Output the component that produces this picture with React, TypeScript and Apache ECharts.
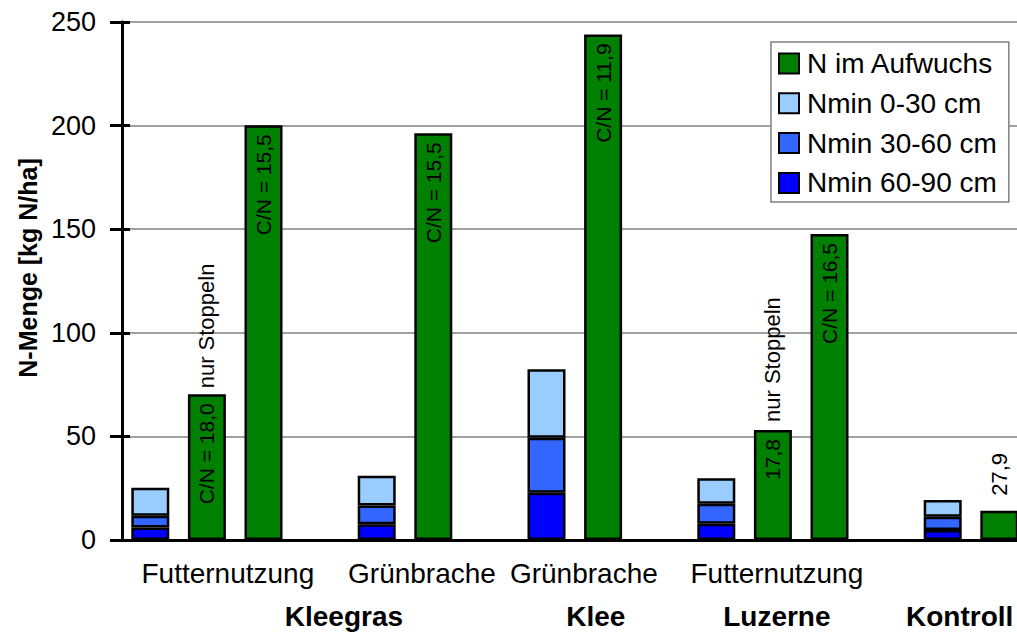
import React, { useEffect, useRef } from "react";
import * as echarts from "echarts";

const FONT = "'Liberation Sans', Arial, Helvetica, sans-serif";

// 16 category slots (bars), including empty gap slots
const categories = [
  "Kleegras Futternutzung Nmin",
  "Kleegras Futternutzung Stoppeln",
  "Kleegras Futternutzung Aufwuchs",
  "gap 1",
  "Kleegras Grünbrache Nmin",
  "Kleegras Grünbrache Aufwuchs",
  "gap 2",
  "Klee Grünbrache Nmin",
  "Klee Grünbrache Aufwuchs",
  "gap 3",
  "Luzerne Futternutzung Nmin",
  "Luzerne Futternutzung Stoppeln",
  "Luzerne Futternutzung Aufwuchs",
  "gap 4",
  "Kontrolle Nmin",
  "Kontrolle Aufwuchs",
];

const nmin6090 = [6.0, null, null, null, 7.6, null, null, 22.8, null, null, 7.9, null, null, null, 4.8, null];
const nmin3060 = [5.7, null, null, null, 9.0, null, null, 26.6, null, null, 9.6, null, null, null, 6.4, null];
const nmin030 = [13.5, null, null, null, 14.4, null, null, 33.0, null, null, 12.3, null, null, null, 8.1, null];
const aufwuchs = [null, 70.3, 200.2, null, null, 196.3, null, null, 244.0, null, null, 53.1, 147.7, null, null, 14.1];

const cnLabels = ["", "C/N = 18,0", "C/N = 15,5", "", "", "C/N = 15,5", "", "", "C/N = 11,9", "", "", "17,8", "C/N = 16,5", "", "", ""];
const noteLabels = ["", "nur Stoppeln", "", "", "", "", "", "", "", "", "", "nur Stoppeln", "", "", "", "27,9"];

// second-level labels (usage) and third-level labels (crop), positions in slot units
const usageLabels = ["Futternutzung", "Grünbrache", "Grünbrache", "Futternutzung"];
const usagePos = [1.37, 4.8, 7.66, 11.07];
const cropLabels = ["Kleegras", "Klee", "Luzerne", "Kontroll"];
const cropPos = [3.42, 7.87, 11.07, 14.3];

const legendNames = ["N im Aufwuchs", "Nmin 0-30 cm", "Nmin 30-60 cm", "Nmin 60-90 cm"];

const yTicks = { min: 0, max: 250, interval: 50 };

const noteGap: Record<number, number> = { 1: 6, 11: 8, 15: 15 };

function nearestLabel(v: number, pos: number[], labels: string[]) {
  let best = -1;
  let bd = 1e9;
  pos.forEach((p, i) => {
    const d = Math.abs(p - v);
    if (d < bd) {
      bd = d;
      best = i;
    }
  });
  return bd < 0.05 ? labels[best] : "";
}

export default function App() {
  const ref = useRef<HTMLDivElement>(null);

  useEffect(() => {
    document.body.style.margin = "0";
    if (!ref.current) return;
    const chart = echarts.init(ref.current, null, { renderer: "svg" });

    const barBorder = { borderColor: "#000", borderWidth: 2.5 };
    const noteData = noteLabels.map((t, i) =>
      t ? { value: 0, label: { distance: noteGap[i] ?? 8 } } : null
    );

    const option: any = {
      animation: false,
      backgroundColor: "#fff",
      textStyle: { fontFamily: FONT },
      grid: { left: 122, top: 22, bottom: 92, right: -10.6, outerBoundsMode: "none" },
      legend: {
        data: legendNames,
        orient: "vertical",
        left: 771,
        top: 42,
        itemWidth: 20,
        itemHeight: 20,
        itemGap: 11.8,
        icon: "rect",
        backgroundColor: "#fff",
        borderColor: "#808080",
        borderWidth: 1.5,
        borderRadius: 0,
        padding: [7.5, 12, 5, 7],
        itemStyle: { borderColor: "#000", borderWidth: 2 },
        textStyle: { fontSize: 28, color: "#000", lineHeight: 27, padding: [0, 0, 0, 3], fontFamily: FONT },
      },
      xAxis: [
        {
          type: "category",
          data: categories,
          position: "bottom",
          axisLine: { show: true, onZero: false, lineStyle: { color: "#000", width: 3 } },
          axisTick: { show: false },
          axisLabel: { show: false },
          splitLine: { show: false },
        },
        {
          type: "value",
          min: -0.5,
          max: 15.5,
          position: "bottom",
          axisLine: { show: false, onZero: false },
          axisTick: { show: false },
          splitLine: { show: false },
          axisLabel: {
            show: true,
            customValues: usagePos,
            formatter: (v: number) => nearestLabel(v, usagePos, usageLabels),
            margin: 19,
            fontSize: 28,
            color: "#000",
            fontFamily: FONT,
          },
        },
        {
          type: "value",
          min: -0.5,
          max: 15.5,
          position: "bottom",
          axisLine: { show: false, onZero: false },
          axisTick: { show: false },
          splitLine: { show: false },
          axisLabel: {
            show: true,
            customValues: cropPos,
            formatter: (v: number) => nearestLabel(v, cropPos, cropLabels),
            margin: 62,
            fontSize: 28,
            fontWeight: "bold",
            color: "#000",
            fontFamily: FONT,
          },
        },
      ],
      yAxis: [
        {
          type: "value",
          ...yTicks,
          position: "left",
          name: "N-Menge [kg N/ha]",
          nameLocation: "middle",
          nameGap: 76,
          nameRotate: 90,
          nameTextStyle: { fontSize: 25, fontWeight: "bold", color: "#000", fontFamily: FONT, padding: [0, 0, 0, 26] },
          axisLine: { show: true, onZero: false, lineStyle: { color: "#000", width: 3 } },
          axisTick: { show: true, inside: false, length: 12, lineStyle: { color: "#000", width: 3 } },
          axisLabel: { fontSize: 27, color: "#000", margin: 26, fontFamily: FONT },
          splitLine: { show: true, lineStyle: { color: "#808080", width: 1.5, type: "solid" } },
        },
        {
          type: "value",
          ...yTicks,
          position: "left",
          axisLine: { show: true, onZero: false, lineStyle: { color: "#000", width: 3 } },
          axisTick: { show: true, inside: true, length: 8, lineStyle: { color: "#000", width: 3 } },
          axisLabel: { show: false },
          splitLine: { show: false },
        },
      ],
      series: [
        {
          name: "Nmin 60-90 cm",
          type: "bar",
          stack: "n",
          barWidth: 38,
          data: nmin6090,
          itemStyle: { color: "#0000FF", ...barBorder },
        },
        {
          name: "Nmin 30-60 cm",
          type: "bar",
          stack: "n",
          barWidth: 38,
          data: nmin3060,
          itemStyle: { color: "#3366FF", ...barBorder },
        },
        {
          name: "Nmin 0-30 cm",
          type: "bar",
          stack: "n",
          barWidth: 38,
          data: nmin030,
          itemStyle: { color: "#99CCFF", ...barBorder },
        },
        {
          name: "N im Aufwuchs",
          type: "bar",
          stack: "n",
          barWidth: 38,
          data: aufwuchs,
          itemStyle: { color: "#008000", ...barBorder },
          label: {
            show: true,
            position: "insideTop",
            rotate: 90,
            align: "right",
            verticalAlign: "middle",
            distance: 9,
            fontSize: 21,
            color: "#000",
            fontFamily: FONT,
            formatter: (p: any) => cnLabels[p.dataIndex] || "",
          },
        },
        {
          name: "notes",
          type: "bar",
          stack: "n",
          barWidth: 38,
          silent: true,
          data: noteData,
          itemStyle: { color: "transparent", borderWidth: 0 },
          label: {
            show: true,
            position: "top",
            rotate: 90,
            align: "left",
            verticalAlign: "middle",
            fontSize: 22,
            color: "#000",
            fontFamily: FONT,
            formatter: (p: any) => noteLabels[p.dataIndex] || "",
          },
        },
      ],
    };

    chart.setOption(option);
    return () => chart.dispose();
  }, []);

  return <div ref={ref} style={{ width: 1017, height: 632, overflow: "hidden" }} />;
}
